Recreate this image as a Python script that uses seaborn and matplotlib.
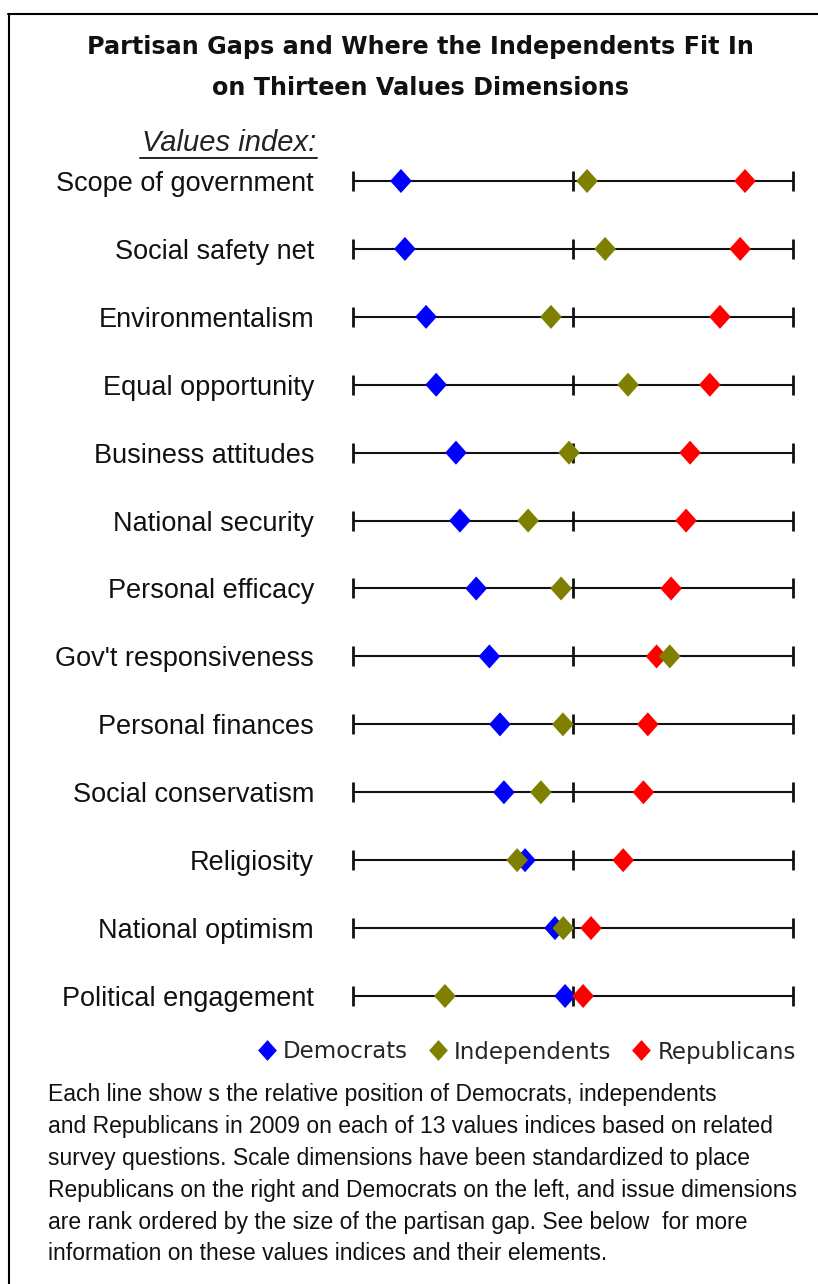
import numpy as np
import pandas as pd
import matplotlib
matplotlib.use("Agg")
import matplotlib.pyplot as plt
from matplotlib.path import Path
from matplotlib.lines import Line2D
import seaborn as sns

# ---------------- data ----------------
dimensions = [
    "Scope of government", "Social safety net", "Environmentalism",
    "Equal opportunity", "Business attitudes", "National security",
    "Personal efficacy", "Gov't responsiveness", "Personal finances",
    "Social conservatism", "Religiosity", "National optimism",
    "Political engagement",
]
democrats = [10.9, 11.8, 16.6, 18.9, 23.4, 24.3, 28.0, 31.0, 33.4, 34.3, 39.1, 45.9, 48.2]
independents = [53.2, 57.3, 45.0, 62.5, 49.1, 39.8, 47.3, 72.0, 47.7, 42.7, 37.3, 47.8, 20.9]
republicans = [89.1, 88.0, 83.4, 81.1, 76.6, 75.7, 72.3, 69.0, 67.0, 66.0, 61.4, 54.1, 52.3]
scale_ticks = [0, 50, 100]
parties = ["Democrats", "Independents", "Republicans"]
party_colors = ["#0000FF", "#808000", "#FF0000"]

title_lines = ["Partisan Gaps and Where the Independents Fit In",
               "on Thirteen Values Dimensions"]
note_lines = [
    "Each line show s the relative position of Democrats, independents",
    "and Republicans in 2009 on each of 13 values indices based on related",
    "survey questions. Scale dimensions have been standardized to place",
    "Republicans on the right and Democrats on the left, and issue dimensions",
    "are rank ordered by the size of the partisan gap. See below  for more",
    "information on these values indices and their elements.",
]

# draw order: Democrats, Republicans, Independents (independents on top)
rows = np.arange(len(dimensions))
df = pd.concat([
    pd.DataFrame({"row": rows, "value": democrats, "party": "Democrats"}),
    pd.DataFrame({"row": rows, "value": republicans, "party": "Republicans"}),
    pd.DataFrame({"row": rows, "value": independents, "party": "Independents"}),
], ignore_index=True)

# ---------------- figure ----------------
sns.set_theme(style="white")
plt.rcParams["font.family"] = ["DejaVu Sans"]

W, H = 818, 1284
fig = plt.figure(figsize=(W / 100, H / 100), dpi=100)
fig.patch.set_facecolor("white")

def fx(px):
    return px / W

def fy(py):
    return 1 - py / H

row_top, row_bot = 181, 996
pitch = (row_bot - row_top) / (len(dimensions) - 1)
ax_top = row_top - pitch / 2
ax_bot = row_bot + pitch / 2
ax = fig.add_axes([fx(353), fy(ax_bot), fx(793) - fx(353), (ax_bot - ax_top) / H])
ax.set_facecolor("none")

# horizontal scale lines and tick marks
ax.hlines(rows, scale_ticks[0], scale_ticks[-1], color="#111111", lw=1.5, zorder=1)
for t in scale_ticks:
    ax.plot(np.full(len(rows), t), rows, linestyle="", marker="|",
            markersize=14, markeredgewidth=2.0, color="#111111", zorder=2,
            clip_on=False)

diamond = Path([(0, 1), (0.9, 0), (0, -1), (-0.9, 0), (0, 1)],
               [Path.MOVETO, Path.LINETO, Path.LINETO, Path.LINETO, Path.CLOSEPOLY])

palette = dict(zip(parties, party_colors))
sns.scatterplot(data=df, x="value", y="row", hue="party", hue_order=parties,
                palette=palette, marker=diamond, s=300, linewidth=0,
                legend=False, ax=ax, zorder=3, clip_on=False)

ax.set_xlim(scale_ticks[0], scale_ticks[-1])
ax.set_ylim(len(dimensions) - 0.5, -0.5)
ax.set_xticks([])
ax.set_xlabel("")
ax.set_ylabel("")
ax.set_yticks(rows)
ax.set_yticklabels(dimensions, family="Liberation Sans", fontsize=19.5, color="#111111")
ax.tick_params(axis="y", length=0, pad=28)
for s in ax.spines.values():
    s.set_visible(False)

# "Values index:" header
fig.text(fx(316), fy(143), "Values index:", ha="right", va="center",
         family="Liberation Sans", style="italic", fontsize=21, color="#222222")
fig.add_artist(Line2D([fx(140), fx(317)], [fy(158), fy(158)], color="#222222",
                      lw=1.4, transform=fig.transFigure))

# title
fig.text(fx(420), fy(47), title_lines[0], ha="center", va="center",
         fontsize=17.2, weight="bold", color="#111111")
fig.text(fx(420), fy(88), title_lines[1], ha="center", va="center",
         fontsize=17.2, weight="bold", color="#111111")

# legend
handles = [Line2D([], [], linestyle="", marker=diamond, markersize=15,
                  markeredgewidth=0, color=c) for c in party_colors]
fig.legend(handles, parties, loc="center left", bbox_to_anchor=(fx(258), fy(1052)),
           ncol=3, frameon=False, borderpad=0, borderaxespad=0,
           handlelength=0.8, handletextpad=0.3, columnspacing=0.9,
           prop={"family": "DejaVu Sans", "size": 16.5})

# footnote
for i, line in enumerate(note_lines):
    fig.text(fx(48), fy(1094 + 32 * i), line, ha="left", va="center",
             family="Liberation Sans", fontsize=16.5, color="#111111")

# frame lines (top and left)
fig.add_artist(Line2D([fx(8), fx(818)], [fy(14), fy(14)], color="black", lw=1.5,
                      transform=fig.transFigure))
fig.add_artist(Line2D([fx(9), fx(9)], [fy(14), fy(1284)], color="black", lw=1.5,
                      transform=fig.transFigure))

fig.savefig("out.png", dpi=100, facecolor="white")
